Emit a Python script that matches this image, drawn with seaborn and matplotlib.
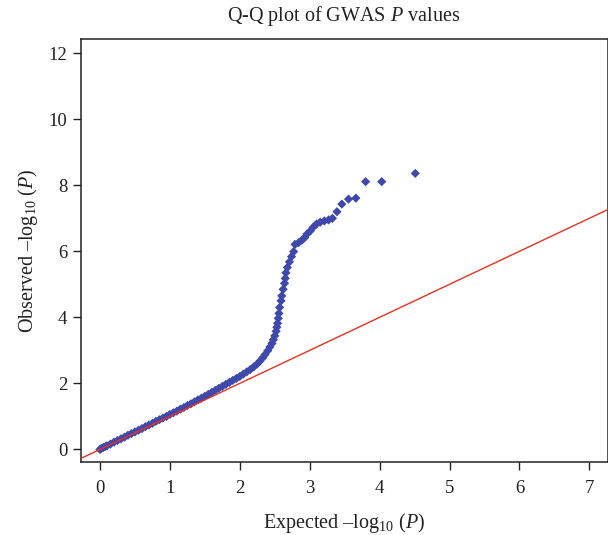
import matplotlib
matplotlib.use("Agg")
import matplotlib.pyplot as plt
import seaborn as sns
import pandas as pd

# Expected -log10(P) and observed -log10(P)
expected = [
    0.00, 0.02, 0.05, 0.08, 0.10, 0.15, 0.20, 0.25, 0.30, 0.35,
    0.40, 0.45, 0.50, 0.55, 0.60, 0.65, 0.70, 0.75, 0.80, 0.85,
    0.90, 0.95, 1.00, 1.05, 1.10, 1.15, 1.20, 1.25, 1.30, 1.35,
    1.40, 1.45, 1.50, 1.55, 1.60, 1.65, 1.70, 1.75, 1.80, 1.85,
    1.90, 1.95, 2.00, 2.05, 2.10, 2.15, 2.20, 2.25, 2.29, 2.33,
    2.36, 2.40, 2.43, 2.46, 2.48, 2.50, 2.52, 2.53, 2.54, 2.55,
    2.56, 2.57, 2.59, 2.60, 2.62, 2.64, 2.65, 2.66, 2.68, 2.71,
    2.74, 2.77, 2.79, 2.84, 2.89, 2.93, 2.96, 3.01, 3.05, 3.10,
    3.15, 3.21, 3.27, 3.325, 3.39, 3.46, 3.555, 3.66, 3.80, 4.03,
    4.51,
]
observed = [
    0.00, 0.03, 0.06, 0.09, 0.11, 0.16, 0.22, 0.27, 0.32, 0.37,
    0.43, 0.48, 0.53, 0.58, 0.63, 0.69, 0.74, 0.79, 0.85, 0.90,
    0.95, 1.00, 1.06, 1.11, 1.16, 1.22, 1.27, 1.33, 1.38, 1.44,
    1.50, 1.55, 1.61, 1.67, 1.73, 1.79, 1.85, 1.91, 1.97, 2.03,
    2.09, 2.15, 2.21, 2.28, 2.35, 2.42, 2.50, 2.59, 2.68, 2.78,
    2.87, 2.99, 3.10, 3.21, 3.32, 3.44, 3.58, 3.70, 3.82, 3.97,
    4.12, 4.30, 4.50, 4.65, 4.85, 5.03, 5.18, 5.35, 5.51, 5.68,
    5.84, 5.99, 6.21, 6.26, 6.34, 6.42, 6.52, 6.62, 6.73, 6.83,
    6.88, 6.92, 6.95, 7.00, 7.20, 7.43, 7.58, 7.61, 8.11, 8.11,
    8.36,
]

x_ticks = [0, 1, 2, 3, 4, 5, 6, 7]
y_ticks = [0, 2, 4, 6, 8, 10, 12]

sns.set_style("ticks")
plt.rcParams["font.family"] = ["Liberation Serif", "DejaVu Serif"]
plt.rcParams["mathtext.fontset"] = "custom"
plt.rcParams["mathtext.rm"] = "Liberation Serif"
plt.rcParams["mathtext.it"] = "Liberation Serif:italic"

df = pd.DataFrame({"expected": expected, "observed": observed})

fig = plt.figure(figsize=(6.08, 5.35), dpi=100)
ax = fig.add_axes([0.1327, 0.1359, 0.8665, 0.7912])

sns.scatterplot(data=df, x="expected", y="observed", marker="D", s=22,
                color="#3f49ab", edgecolor="none", linewidth=0, ax=ax, zorder=2)
ax.axline((0, 0), slope=1, color="#e8321f", linewidth=1.0, zorder=3)

ax.set_xlim(-0.276, 7.26)
ax.set_ylim(-0.39, 12.43)
ax.set_xticks(x_ticks)
ax.set_yticks(y_ticks)
ax.tick_params(axis="both", direction="out", length=5.5, width=1.0,
               labelsize=13.5, color="#222222", labelcolor="#222222")
ax.tick_params(axis="x", pad=7)
ax.tick_params(axis="y", pad=4)
for sp in ax.spines.values():
    sp.set_visible(True)
    sp.set_linewidth(1.1)
    sp.set_color("#222222")

ax.set_xlabel("Expected –log$_{10}$ ($\\mathit{P}$)", fontsize=14.5, color="#222222", labelpad=10)
ax.set_ylabel("Observed –log$_{10}$ ($\\mathit{P}$)", fontsize=14.5, color="#222222", labelpad=6)
ax.set_title("Q-Q plot of GWAS $\\mathit{P}$ values", fontsize=14.5, color="#222222", pad=13)

fig.savefig("out.png", dpi=100)
